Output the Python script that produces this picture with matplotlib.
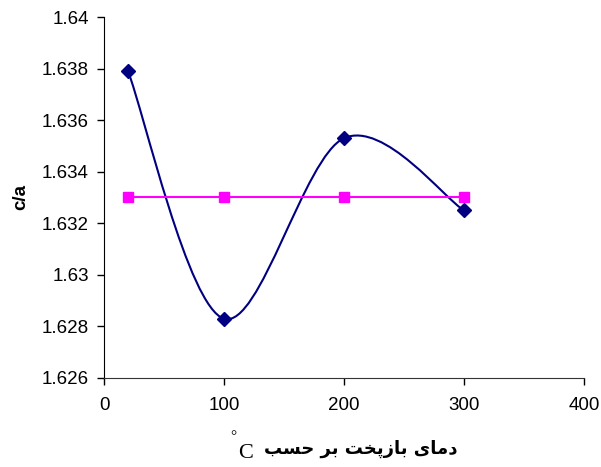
import numpy as np
import matplotlib
matplotlib.use("Agg")
import matplotlib.pyplot as plt
from matplotlib.path import Path
from matplotlib.patches import PathPatch

# data
temps = [20, 100, 200, 300]
ca_measured = [1.6379, 1.6283, 1.6353, 1.6325]
ca_ref = [1.633, 1.633, 1.633, 1.633]
xticks = [0, 100, 200, 300, 400]
yticks = [1.626, 1.628, 1.63, 1.632, 1.634, 1.636, 1.638, 1.64]
ytick_labels = ["1.626", "1.628", "1.63", "1.632", "1.634", "1.636", "1.638", "1.64"]

# persian label, in presentation forms (logical order), reversed for LTR drawing
xlabel_fa = "\uFEA9\uFEE3\uFE8E\uFEEF \uFE91\uFE8E\uFEAF\uFB58\uFEA8\uFE96 \uFE91\uFEAE \uFEA3\uFEB4\uFE90"

navy = "#000080"
pink = "#FF00FF"

plt.rcParams['font.family'] = ['Liberation Sans', 'DejaVu Sans']

fig = plt.figure(figsize=(6.01, 4.67), dpi=100)
ax = fig.add_axes([104/601, 1-378/467, 480/601, 361/467])


def smooth_path(xs, ys):
    # excel style smoothed line: catmull-rom segments as cubic beziers
    pts = list(zip(xs, ys))
    n = len(pts)
    verts = [pts[0]]
    codes = [Path.MOVETO]
    for i in range(n - 1):
        p0 = pts[i - 1] if i > 0 else pts[i]
        p1 = pts[i]
        p2 = pts[i + 1]
        p3 = pts[i + 2] if i + 2 < n else pts[i + 1]
        c1 = (p1[0] + (p2[0] - p0[0]) / 6, p1[1] + (p2[1] - p0[1]) / 6)
        c2 = (p2[0] - (p3[0] - p1[0]) / 6, p2[1] - (p3[1] - p1[1]) / 6)
        verts += [c1, c2, p2]
        codes += [Path.CURVE4] * 3
    return Path(verts, codes)


ax.add_patch(PathPatch(smooth_path(temps, ca_measured), fill=False,
                       edgecolor=navy, lw=1.5, zorder=2))
ax.plot(temps, ca_measured, ls='none', marker='D', ms=7, color=navy, zorder=3)
ax.plot(temps, ca_ref, color=pink, lw=1.5, marker='s', ms=7, zorder=3)

ax.set_xlim(0, 400)
ax.set_ylim(1.626, 1.64)
ax.set_xticks(xticks)
ax.set_xticklabels([str(t) for t in xticks])
ax.set_yticks(yticks)
ax.set_yticklabels(ytick_labels)
ax.tick_params(labelsize=13.5, direction='out', length=5, width=1)
ax.tick_params(axis='x', pad=9)
ax.tick_params(axis='y', pad=6)
ax.spines['top'].set_visible(False)
ax.spines['right'].set_visible(False)
ax.spines['bottom'].set_color('#333333')

ax.set_ylabel("c/a", fontsize=13.5, fontweight='bold')
ax.yaxis.set_label_coords(-0.155, 0.5)

fig.text(458/601, 1-454/467, xlabel_fa[::-1], family=['DejaVu Sans'],
         fontsize=13, fontweight='bold', ha='right', va='baseline')
fig.text(253/601, 1-458/467, "C", family=['Liberation Serif'],
         fontsize=16, ha='right', va='baseline')
fig.text(236/601, 1-440/467, "\u00b0", family=['Liberation Serif'],
         fontsize=11, ha='right', va='baseline')

fig.savefig("out.png", dpi=100)
